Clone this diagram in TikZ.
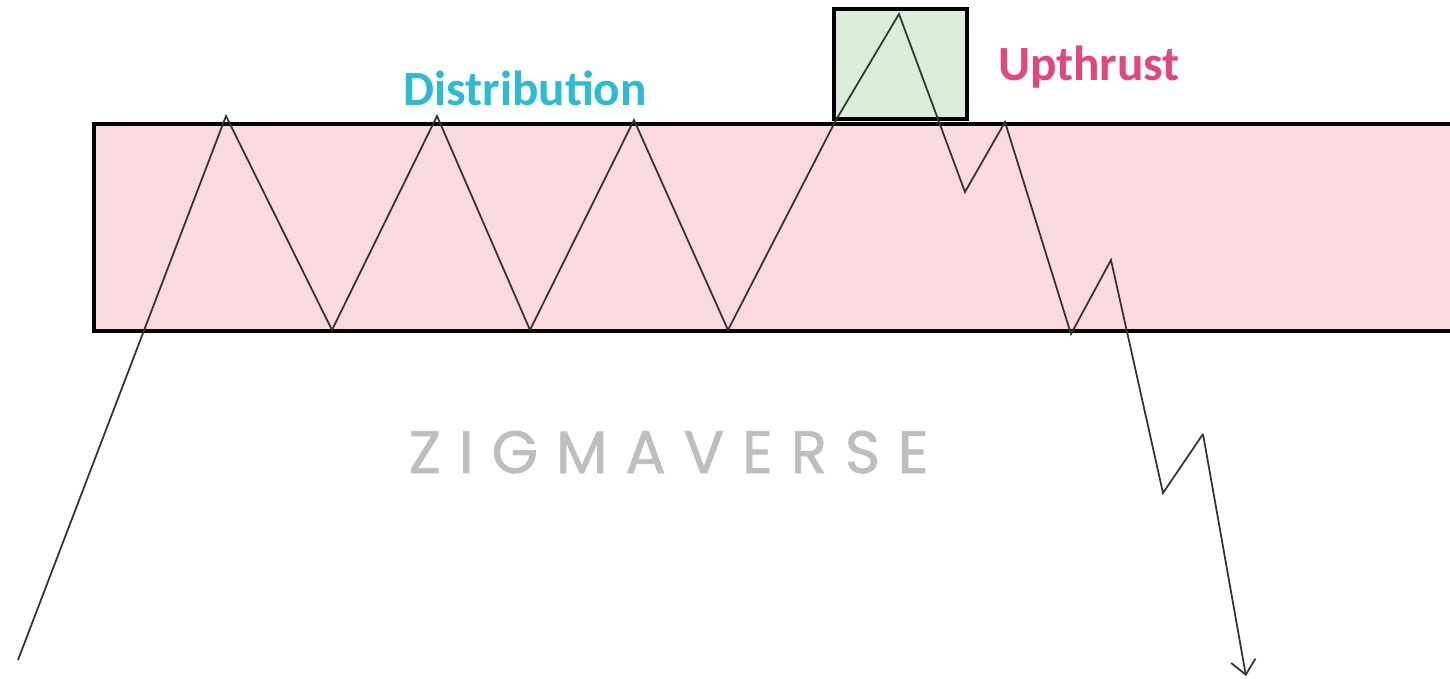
\documentclass[tikz,border=0pt]{standalone}
\usepackage{fontspec}
\usetikzlibrary{arrows.meta}
\newfontfamily\labelfont{Carlito}
\newfontfamily\markfont[LetterSpace=30,FakeBold=1.2]{Poppins}
\definecolor{zonepink}{RGB}{250,217,223}
\definecolor{boxgreen}{RGB}{218,236,218}
\definecolor{distcyan}{RGB}{43,188,212}
\definecolor{upred}{RGB}{226,70,124}
\definecolor{markgray}{RGB}{190,190,192}
\begin{document}
\begin{tikzpicture}[x=0.01cm,y=-0.01cm,>={Straight Barb[length=4pt,width=7pt]}]
	\useasboundingbox (0,0) rectangle (1450,678);
	\tikzset{
		zone/.style={fill=zonepink,draw=black,line width=1.1pt},
		upbox/.style={fill=boxgreen,draw=black,line width=1.1pt},
		price/.style={draw=black!80,line width=0.5pt},
		lbl/.style={font=\labelfont\bfseries\fontsize{14}{16}\selectfont,anchor=base,inner sep=0pt}
	}
	% range and upthrust box
	\draw[zone] (94,124) rectangle (1460,331);
	\draw[upbox] (834,9) rectangle (967,119);
	% price swings
	\path
	(18,660) coordinate (p0)
	(226,116) coordinate (p1)
	(332,330) coordinate (p2)
	(437,116) coordinate (p3)
	(530,330) coordinate (p4)
	(634,120) coordinate (p5)
	(728,330) coordinate (p6)
	(836,120) coordinate (p7)
	(899,14) coordinate (p8)
	(965,192) coordinate (p9)
	(1005,122) coordinate (p10)
	(1071,334) coordinate (p11)
	(1111,260) coordinate (p12)
	(1163,493) coordinate (p13)
	(1203,434) coordinate (p14)
	(1246,676) coordinate (p15)
	;
	\draw[price] (p0)--(p1)--(p2)--(p3)--(p4)--(p5)--(p6)--(p7)--(p8)
		--(p9)--(p10)--(p11)--(p12)--(p13)--(p14);
	\draw[price,->] (p14)--(p15);
	% labels
	\path
	(525,105) node[lbl,text=distcyan] (dist) {Distribution}
	(1089,80) node[lbl,text=upred] (up) {Upthrust}
	(408,473) node[anchor=base west,inner sep=0pt,text=markgray,font=\markfont\fontsize{17}{20}\selectfont] (mark) {ZIGMAVERSE}
	;
\end{tikzpicture}
\end{document}
